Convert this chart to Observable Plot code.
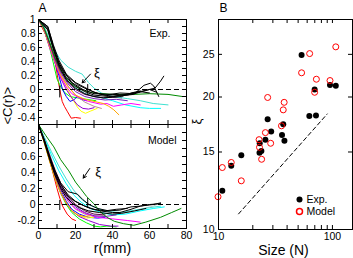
<!DOCTYPE html>
<html><head><meta charset="utf-8">
<script src="https://cdn.jsdelivr.net/npm/d3@7"></script>
<script src="https://cdn.jsdelivr.net/npm/@observablehq/plot@0.6"></script>
<style>
body{margin:0;background:#fff;}
#wrap{position:relative;width:353px;height:258px;overflow:hidden;}
#wrap svg{position:absolute;left:0;top:0;}
</style></head><body><div id="wrap"></div>
<script>
// ---------- DATA ----------
// Panel A tick values
const rTicks = [0,10,20,30,40,50,60,70,80];
const rLabels = [0,20,40,60,80];
const cTicksExp = [-0.5,-0.4,-0.3,-0.2,-0.1,0,0.1,0.2,0.3,0.4,0.5,0.6,0.7,0.8,0.9,1];
const cLabelsExp = [-0.4,-0.2,0,0.2,0.4,0.6,0.8,1];
const cTicksModel = [-0.3,-0.2,-0.1,0,0.1,0.2,0.3,0.4,0.5,0.6,0.7,0.8,0.9,1];
const cLabelsModel = [-0.2,0,0.2,0.4,0.6,0.8];

// Panel A curves: [r (mm), <C(r)>]
const expCurves = [
  [[0,1],[2,0.88],[4.7,0.74],[7,0.55],[9.2,0.36],[10.5,0.15],[11.5,0],[12.8,-0.17],[14,-0.24],[15.5,-0.31],[17.7,-0.41],[20,-0.4],[22.7,-0.41]],
  [[0,1],[3,0.85],[6,0.6],[8,0.38],[10,0.15],[12,0.04],[14,-0.04],[17,-0.1],[21,-0.12],[26,-0.14],[31,-0.16]],
  [[0,1],[3,0.86],[6,0.62],[9,0.38],[11,0.2],[13,0],[15,-0.1],[17,-0.17],[19,-0.15],[21,-0.1],[23,-0.14],[26,-0.16]],
  [[0,1],[3,0.85],[6,0.62],[9,0.4],[12,0.2],[15,0.04],[18,-0.12],[21,-0.25],[23,-0.31],[25.4,-0.34],[28,-0.31],[31.7,-0.27]],
  [[0,1],[3,0.86],[6,0.6],[9,0.4],[12,0.22],[16,0.05],[20,-0.08],[25,-0.18],[30,-0.24],[34,-0.27]],
  [[0,1],[5,0.8],[10,0.45],[15,0.18],[20,0.05],[25,-0.05],[30,-0.1],[36,-0.12],[40,-0.1]],
  [[0,1],[3,0.85],[6,0.62],[9,0.38],[12,0.16],[15,0],[18,-0.12],[21,-0.22],[24,-0.27],[27,-0.28],[30,-0.26]],
  [[0,1],[3,0.86],[6,0.64],[9,0.44],[12,0.28],[16,0.12],[20,0.02],[25,-0.06],[30,-0.1],[35,-0.12],[40,-0.16],[47,-0.22],[55,-0.26],[60,-0.27],[66,-0.27]],
  [[0,1],[3,0.86],[6,0.6],[9,0.38],[12,0.18],[15,0.04],[18,-0.06],[22,-0.12],[27,-0.17],[33.5,-0.21],[37,-0.2],[40.5,-0.24],[45,-0.22],[50,-0.2],[55,-0.22]],
  [[0,1],[3,0.85],[6,0.62],[9,0.4],[12,0.2],[16,0.04],[20,-0.08],[25,-0.14],[30,-0.17],[35,-0.2],[38,-0.24],[40.7,-0.29],[43.4,-0.36]],
  [[0,1],[3,0.87],[6,0.65],[9,0.42],[12,0.24],[16,0.08],[20,-0.03],[25,-0.1],[30,-0.13],[36,-0.15],[42,-0.14],[48,-0.16]],
  [[0,1],[3,0.88],[6,0.66],[9,0.44],[12,0.26],[16,0.1],[20,0],[25,-0.07],[30,-0.1],[35,-0.12],[40,-0.11],[45,-0.12]],
  [[0,1],[3,0.9],[6,0.72],[9,0.55],[12,0.42],[16,0.32],[20,0.26],[23.6,0.22],[27,0.1],[30,0.02],[34,-0.05],[40,-0.1],[48,-0.13],[55,-0.16],[62,-0.2],[70,-0.22]],
  [[0,1],[3,0.88],[6,0.68],[9,0.46],[12,0.28],[16,0.12],[20,0.04],[25,-0.02],[30,-0.05],[40,-0.07],[51.5,-0.07],[60,-0.06],[70,-0.07],[77.7,-0.1]],
  [[0,1],[5,0.9],[8,0.62],[11,0.38],[15.5,0.19],[21,0.07],[26.6,0],[33.5,-0.07],[40.7,-0.1],[51.5,-0.07],[57,0.06],[60.5,0.09],[62.3,0.05],[65,-0.1]],
  [[0,1],[5,0.88],[8,0.6],[11,0.36],[15,0.17],[20,0.05],[25,-0.03],[30,-0.08],[38,-0.1],[45,-0.08],[55,-0.03],[63,0.02],[66,0.12],[67.7,0.19]],
  [[0,1],[5,0.86],[8,0.58],[11,0.34],[15,0.14],[20,0.02],[25,-0.06],[30,-0.1],[35,-0.12],[45,-0.1],[50,-0.05],[55,-0.02]],
  [[0,1],[5,0.9],[8,0.64],[11,0.42],[15,0.22],[20,0.1],[25,0.03],[30,-0.04],[36,-0.08],[44,-0.05],[52,-0.06],[60,0],[64,-0.04]],
  [[0,1],[5,0.85],[9,0.5],[13,0.28],[18,0.1],[24,0],[30,-0.06],[40,-0.07],[48,-0.08],[55,-0.03],[60,-0.05]]
];
const modelCurves = [
  [[0,1],[2,0.86],[4,0.72],[6,0.55],[8,0.38],[10,0.2],[11.5,0.08],[13,-0.02],[15.5,-0.12],[18,-0.18],[20,-0.2]],
  [[0,1],[3,0.78],[6,0.55],[9,0.32],[12,0.14],[15,0],[18,-0.1],[22,-0.18],[26,-0.23],[30,-0.27],[33.5,-0.28],[37,-0.27],[42,-0.28]],
  [[0,1],[3,0.8],[6,0.58],[9,0.36],[12,0.18],[15,0.04],[18,-0.06],[22,-0.12],[27,-0.16],[32,-0.17],[36,-0.16]],
  [[0,1],[3,0.78],[6,0.55],[9,0.34],[12,0.16],[15,0.02],[18,-0.08],[22,-0.14],[26,-0.17],[30,-0.16]],
  [[0,1],[3,0.8],[6,0.58],[9,0.38],[12,0.2],[16,0.04],[20,-0.06],[25,-0.12],[30,-0.15],[35,-0.14]],
  [[0,1],[4,0.78],[8,0.5],[12,0.26],[16,0.1],[20,0],[26,-0.07],[32,-0.1],[40,-0.12],[48,-0.1],[55,-0.06],[62,-0.02],[66,0.02]],
  [[0,1],[3,0.79],[6,0.56],[9,0.34],[12,0.15],[15,0.02],[18,-0.08],[22,-0.15],[27,-0.2],[33,-0.25],[39,-0.27],[43,-0.27]],
  [[0,1],[3,0.84],[7,0.62],[11,0.42],[15,0.26],[19,0.12],[23,0.03],[28,-0.05],[34,-0.1],[40,-0.13],[47,-0.12],[55,-0.08],[62,-0.05],[68,-0.03]],
  [[0,1],[3,0.8],[6,0.58],[9,0.38],[12,0.2],[16,0.05],[20,-0.05],[26,-0.12],[32,-0.16],[40,-0.18],[48,-0.2],[55,-0.22]],
  [[0,1],[3,0.78],[6,0.54],[9,0.32],[12,0.14],[15,0.02],[18,-0.08],[21,-0.13],[25,-0.15],[28,-0.14]],
  [[0,1],[3,0.8],[6,0.6],[9,0.4],[12,0.24],[16,0.08],[20,-0.03],[25,-0.1],[30,-0.14],[36,-0.15],[42,-0.13]],
  [[0,1],[3,0.82],[6,0.62],[9,0.42],[12,0.26],[16,0.1],[20,0],[25,-0.08],[30,-0.12],[36,-0.13]],
  [[0,1],[3,0.85],[7,0.66],[11,0.48],[15,0.32],[19,0.18],[23,0.07],[27,0],[32,-0.05],[38,-0.09],[45,-0.1],[52,-0.07],[60,-0.04],[66,-0.02]],
  [[0,1],[4,0.86],[8.3,0.72],[12,0.56],[16.4,0.42],[20,0.28],[22.7,0.2],[26,0.1],[29.9,0.01],[33,-0.08],[37,-0.16],[41,-0.21],[46,-0.24],[51.5,-0.26],[58,-0.22],[66,-0.16],[72,-0.1],[77,-0.05]],
  [[0,1],[3,0.8],[6,0.58],[9,0.38],[12,0.22],[15,0.12],[19,0.05],[23,0],[28,-0.05],[33.5,-0.08],[40,-0.1],[44,-0.1],[50,-0.06],[55,-0.02],[60,0],[66,0.01]],
  [[0,1],[3,0.82],[6,0.6],[9,0.42],[12,0.27],[16,0.16],[21,0.13],[24,0.06],[27.3,0],[32,-0.05],[38,-0.08],[44,-0.07],[50,-0.03],[55,-0.02],[62,0],[66,0.02]],
  [[0,1],[3,0.79],[6,0.56],[9,0.36],[12,0.2],[15,0.09],[18,0.02],[22,-0.04],[27,-0.08],[33,-0.1],[40,-0.12],[45,-0.11],[52,-0.08],[58,-0.05]],
  [[0,1],[3,0.81],[6,0.59],[9,0.4],[12,0.25],[16,0.12],[20,0.04],[25,-0.02],[30,-0.06],[36,-0.08],[42,-0.06],[48,-0.05]]
];
// xi markers on the zero line: [r, top, bottom]
const xiMarksExp = [[11.5,0.05,-0.12],[26.6,0.07,-0.07]];
const xiMarksModel = [[11.5,0.05,-0.075],[26.6,0.075,-0.05]];
// xi arrows: [r1, c1, r2, c2] and label position [r, c]
const xiArrowExp = [[28.1,0.22,23.6,0.095]];
const xiLabelExp = [[31.6,0.24]];
const xiArrowModel = [[27.7,0.45,24.2,0.33]];
const xiLabelModel = [[32.2,0.41]];

// Panel B
const sizeTicks = [10,20,30,40,50,60,70,80,90,100];
const sizeLabels = [10,100];
const xiTicks = [15,20,25];
const xiLabels = [10,15,20,25];
const expSize = [53.6,69.8,95.2,107,62.7,71.7,27.0,37.0,29.0,25.8,23.0,36.1,37.9,23.8,22.9,15.85,12.94,10.8];
const expXi   = [24.9,20.8,21.3,21.2,18.1,18.15,17.8,17.35,16.7,16.0,15.7,16.4,15.9,15.08,14.95,14.75,13.95,12.25];
const modelSize = [107,63.1,53.6,72.3,95.2,69.8,37.7,37.0,35.7,25.8,22.7,28.7,22.9,23.9,12.94,10.8,15.85,9.9,27.0];
const modelXi   = [26.0,25.1,22.7,21.95,21.8,20.5,19.45,18.7,17.2,16.6,16.0,15.7,15.37,14.44,14.2,13.83,12.9,11.87,19.95];
const guideSize = [15,90];
const guideXi = [10.85,18.3];

// ---------- STYLE ----------
const palette = ["#ff0000","#00ff00","#0000ff","#ffff00","#bc8f8f","#c8c8c8","#9400d3","#00ffff","#ff00ff","#ffa500","#7221bc","#670748","#40e0d0","#008b00","#000000","#000000","#000000","#000000","#000000"];
const FONT = "'Liberation Sans', Arial, Helvetica, sans-serif";
const W = 353, H = 258;
const styleObj = {background:"transparent", fontFamily:FONT, fontSize:"10.5px", overflow:"visible", color:"black"};
const fmt = d => String(d);
const TL = 4;
const M = "middle";

function curveMarks(curves){
  return curves.map((c,i) => Plot.line(c, {x:d=>d[0], y:d=>d[1], stroke:palette[i % palette.length], strokeWidth:1}));
}
function frameTicksA(h, w, yTicks){
  return [
    Plot.tickX(rTicks, {x:d=>d, insetTop:h-TL, stroke:"black"}),
    Plot.tickX(rTicks, {x:d=>d, insetBottom:h-TL, stroke:"black"}),
    Plot.tickY(yTicks, {y:d=>d, insetRight:w-TL, stroke:"black"}),
    Plot.tickY(yTicks, {y:d=>d, insetLeft:w-TL, stroke:"black"})
  ];
}

const wA = 148, hA1 = 105, hA2 = 104;

const pA1 = Plot.plot({
  width:W, height:H, style:styleObj,
  marginLeft:38, marginRight:167, marginTop:19, marginBottom:134,
  x:{domain:[0,80], axis:null},
  y:{domain:[-0.5,1], ticks:cLabelsExp, tickSize:0, tickPadding:3, tickFormat:fmt, label:null},
  marks:[
    ...curveMarks(expCurves),
    Plot.ruleY([0], {stroke:"black", strokeDasharray:"5,3"}),
    Plot.ruleX(xiMarksExp, {x:d=>d[0], y1:d=>d[1], y2:d=>d[2], stroke:"black"}),
    Plot.arrow(xiArrowExp, {x1:d=>d[0], y1:d=>d[1], x2:d=>d[2], y2:d=>d[3], stroke:"black", headLength:5, strokeWidth:1}),
    Plot.text(xiLabelExp, {x:d=>d[0], y:d=>d[1], text:()=>"ξ", fontSize:13, lineAnchor:M}),
    ...frameTicksA(hA1, wA, cTicksExp),
    Plot.frame({stroke:"black"}),
    Plot.text(["Exp."], {frameAnchor:"top-right", dx:-16, dy:14, textAnchor:"end", lineAnchor:M, fontSize:10.5}),
    Plot.text(["A"], {frameAnchor:"top-left", dx:0, dy:-11, textAnchor:"start", lineAnchor:M, fontSize:12})
  ]
});

const pA2 = Plot.plot({
  width:W, height:H, style:styleObj,
  marginLeft:38, marginRight:167, marginTop:124, marginBottom:30,
  x:{domain:[0,80], ticks:rLabels, tickSize:0, tickPadding:3, tickFormat:fmt, label:null},
  y:{domain:[-0.3,1], ticks:cLabelsModel, tickSize:0, tickPadding:3, tickFormat:fmt, label:null},
  marks:[
    ...curveMarks(modelCurves),
    Plot.ruleY([0], {stroke:"black", strokeDasharray:"5,3"}),
    Plot.ruleX(xiMarksModel, {x:d=>d[0], y1:d=>d[1], y2:d=>d[2], stroke:"black"}),
    Plot.arrow(xiArrowModel, {x1:d=>d[0], y1:d=>d[1], x2:d=>d[2], y2:d=>d[3], stroke:"black", headLength:5, strokeWidth:1}),
    Plot.text(xiLabelModel, {x:d=>d[0], y:d=>d[1], text:()=>"ξ", fontSize:13, lineAnchor:M}),
    ...frameTicksA(hA2, wA, cTicksModel),
    Plot.frame({stroke:"black"}),
    Plot.text(["Model"], {frameAnchor:"top-right", dx:-10, dy:16, textAnchor:"end", lineAnchor:M, fontSize:10.5}),
    Plot.text(["<C(r)>"], {frameAnchor:"top-left", dx:-31, dy:0, rotate:-90, lineAnchor:M, fontSize:13}),
    Plot.text(["r(mm)"], {frameAnchor:"bottom", dy:20, lineAnchor:M, fontSize:14})
  ]
});

const wB = 134, hB = 210;
const expPts = expSize.map((s,i)=>({s, xi:expXi[i]}));
const modelPts = modelSize.map((s,i)=>({s, xi:modelXi[i]}));
const guidePts = guideSize.map((s,i)=>({s, xi:guideXi[i]}));

const pB = Plot.plot({
  width:W, height:H, style:styleObj,
  marginLeft:218, marginRight:1, marginTop:19, marginBottom:29,
  x:{type:"log", domain:[10,150], ticks:sizeLabels, tickSize:0, tickPadding:3, tickFormat:fmt, label:null},
  y:{type:"log", domain:[10,30], ticks:xiLabels, tickSize:0, tickPadding:4, tickFormat:fmt, label:null},
  marks:[
    Plot.line(guidePts, {x:"s", y:"xi", stroke:"black", strokeDasharray:"4,3", strokeWidth:1}),
    Plot.dot(expPts, {x:"s", y:"xi", fill:"black", r:3}),
    Plot.dot(modelPts, {x:"s", y:"xi", stroke:"red", fill:"none", r:3, strokeWidth:1}),
    Plot.tickX(sizeTicks, {x:d=>d, insetTop:hB-TL, stroke:"black"}),
    Plot.tickX(sizeTicks, {x:d=>d, insetBottom:hB-TL, stroke:"black"}),
    Plot.tickY(xiTicks, {y:d=>d, insetRight:wB-TL, stroke:"black"}),
    Plot.tickY(xiTicks, {y:d=>d, insetLeft:wB-TL, stroke:"black"}),
    Plot.frame({stroke:"black"}),
    Plot.dot([0], {frameAnchor:"bottom-right", dx:-53, dy:-30, fill:"black", r:3}),
    Plot.dot([0], {frameAnchor:"bottom-right", dx:-53, dy:-18, stroke:"red", fill:"none", r:3}),
    Plot.text(["Exp."], {frameAnchor:"bottom-right", dx:-46, dy:-30, textAnchor:"start", lineAnchor:M, fontSize:10.5}),
    Plot.text(["Model"], {frameAnchor:"bottom-right", dx:-46, dy:-18, textAnchor:"start", lineAnchor:M, fontSize:10.5}),
    Plot.text(["B"], {frameAnchor:"top-left", dx:1, dy:-11, textAnchor:"start", lineAnchor:M, fontSize:12}),
    Plot.text(["ξ"], {frameAnchor:"left", dx:-22, rotate:-90, lineAnchor:M, fontSize:13}),
    Plot.text(["Size (N)"], {frameAnchor:"bottom", dx:-2, dy:21, lineAnchor:M, fontSize:14})
  ]
});

const wrap = document.getElementById("wrap");
wrap.append(pA1, pA2, pB);
</script>
</body></html>
